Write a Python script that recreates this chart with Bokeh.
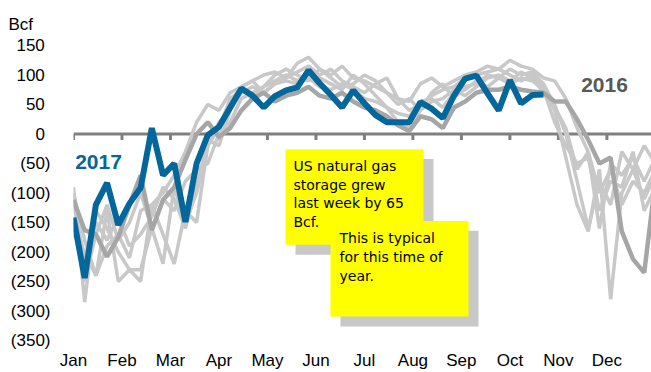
import numpy as np
from bokeh.plotting import figure
from bokeh.models import FixedTicker, Span, Label, BoxAnnotation
from bokeh.embed import file_html
from bokeh.resources import INLINE

# ---------------- data ----------------
months = ["Jan", "Feb", "Mar", "Apr", "May", "Jun",
          "Jul", "Aug", "Sep", "Oct", "Nov", "Dec"]
y_ticks = [150, 100, 50, 0, -50, -100, -150, -200, -250, -300, -350]

# weekly net storage change, Bcf (week index 0 = first week of January)
storage_2017 = [-142, -244, -120, -83, -154, -118, -91, 10, -70, -50, -149, -50,
                -2, 12, 45, 77, 65, 45, 64, 74, 79, 108, 86, 66, 45, 74, 52, 32,
                20, 20, 20, 54, 43, 27, 65, 94, 99, 69, 40, 91, 52, 66, 67]

storage_2016 = [-112, -163, -170, -208, -175, -120, -70, -163, -112, -90, -44, 0,
                20, -5, 10, 40, 60, 70, 55, 65, 70, 80, 65, 60, 70, 55, 45, 40,
                30, 15, 5, 30, 25, 10, 45, 55, 70, 75, 75, 80, 75, 72, 70, 55,
                55, 25, -10, -50, -40, -165, -212, -235, -80]

storage_2015 = [-100, -180, -240, -190, -170, -210, -130, -120, -100, -70, -30, 20,
                50, 40, 70, 80, 90, 100, 105, 95, 120, 130, 110, 100, 115, 95, 90, 80,
                70, 60, 55, 85, 95, 80, 90, 100, 105, 115, 110, 125, 115, 110, 95, 90,
                60, 10, -30, -160, -50, -70, -40, -80, -40]

storage_2014 = [-90, -285, -130, -160, -200, -230, -230, -160, -220, -90, -150, -100,
                -20, 10, 60, 75, 60, 80, 100, 110, 100, 90, 110, 95, 80, 85, 100, 90,
                70, 50, 60, 40, 70, 85, 60, 80, 85, 100, 95, 110, 100, 105, 85, 50,
                0, -80, -160, -80, -120, -30, -60, -20, -50]

storage_2013 = [-170, -200, -240, -130, -250, -230, -250, -120, -170, -220, -130, -150,
                -20, 20, 40, 80, 90, 70, 85, 95, 105, 115, 100, 110, 90, 80, 70, 85,
                95, 60, 40, 50, 65, 75, 80, 95, 100, 105, 110, 100, 90, 100, 80, 40,
                -40, -120, -165, -60, -280, -100, -60, -110, -70]

storage_2012 = [-140, -250, -170, -120, -180, -150, -100, -160, -110, -130, -80, -60,
                -50, 0, 20, 60, 70, 80, 90, 100, 90, 100, 95, 85, 75, 100, 85, 65,
                45, 35, 30, 55, 60, 45, 70, 75, 90, 80, 95, 85, 95, 90, 75, 20,
                -20, -50, -40, -130, -80, -90, -30, -130, -90]

storage_2011 = [-120, -210, -150, -180, -140, -190, -170, -140, -90, -110, -160, -90,
                -10, -20, 40, 70, 80, 70, 85, 90, 85, 95, 80, 75, 85, 75, 60, 55,
                45, 20, 10, 40, 55, 60, 75, 65, 80, 95, 100, 90, 105, 95, 70, 45,
                10, -60, -30, -100, -60, -120, -80, -100, -60]

WEEKS_PER_MONTH = 52 / 12


def month_x(series):
    return np.arange(len(series)) / WEEKS_PER_MONTH


def y_label(v):
    return "(%d)" % abs(v) if v < 0 else "%d\u2004" % v


# ---------------- styles ----------------
BLUE = "#04679C"
DARK_GREY = "#A6A6A6"
LIGHT_GREY = "#C8C8C8"
AXIS_GREY = "#808080"
FONT = "Liberation Sans"

FRAME_L, FRAME_R, FRAME_T, FRAME_B = 73, 651, 45, 341
W, H = 651, 372
X_END = 11.92

p = figure(width=W, height=H, output_backend="svg", toolbar_location=None,
           x_range=(0, X_END), y_range=(-350, 150),
           min_border_left=FRAME_L, min_border_right=W - FRAME_R,
           min_border_top=FRAME_T, min_border_bottom=H - FRAME_B)
p.outline_line_color = None
p.xgrid.visible = False
p.ygrid.visible = False
p.background_fill_color = "white"

# y axis
p.yaxis.ticker = FixedTicker(ticks=y_ticks)
p.yaxis.major_label_overrides = {v: y_label(v) for v in y_ticks}
p.yaxis.axis_line_color = None
p.yaxis.major_tick_line_color = None
p.yaxis.minor_tick_line_color = None
p.yaxis.major_label_standoff = 17
p.yaxis.major_label_text_font = FONT
p.yaxis.major_label_text_font_size = "17px"
p.yaxis.major_label_text_color = "black"

# x axis (month labels)
month_ticks = list(range(len(months)))
p.xaxis.ticker = FixedTicker(ticks=month_ticks)
p.xaxis.major_label_overrides = {i: m for i, m in enumerate(months)}
p.xaxis.axis_line_color = None
p.xaxis.major_tick_line_color = None
p.xaxis.minor_tick_line_color = None
p.xaxis.major_label_standoff = 4
p.xaxis.major_label_text_font = FONT
p.xaxis.major_label_text_font_size = "17px"
p.xaxis.major_label_text_color = "black"

# title "Bcf"
p.title.text = "Bcf"
p.title.align = "left"
p.title.offset = -FRAME_L + 8
p.title.standoff = 24
p.title.text_font = FONT
p.title.text_font_size = "17px"
p.title.text_font_style = "normal"
p.title.text_color = "black"

# zero line with month tick marks
p.add_layout(Span(location=0, dimension="width", line_color=AXIS_GREY,
                  line_width=3, level="underlay"))
p.segment(x0=month_ticks, y0=[0] * len(month_ticks), x1=month_ticks,
          y1=[-10] * len(month_ticks), line_color=AXIS_GREY, line_width=3)

# series
for s in [storage_2011, storage_2012, storage_2013, storage_2014, storage_2015]:
    p.line(month_x(s), s, line_color=LIGHT_GREY, line_width=3.5)
p.line(month_x(storage_2016), storage_2016, line_color=DARK_GREY, line_width=4.5)
p.line(month_x(storage_2017), storage_2017, line_color=BLUE, line_width=6)


# ---------------- annotations (pixel placement helpers) ----------------
def dx(px):
    return (px - FRAME_L) * X_END / (FRAME_R - FRAME_L)


def dy(py):
    return 150 - (py - FRAME_T) * 500 / (FRAME_B - FRAME_T)


p.add_layout(Label(x=dx(98), y=dy(162), text="2017", text_color=BLUE,
                   text_font=FONT, text_font_size="21px", text_font_style="bold",
                   text_align="center", text_baseline="middle"))
p.add_layout(Label(x=dx(604), y=dy(85), text="2016", text_color="#595959",
                   text_font=FONT, text_font_size="21px", text_font_style="bold",
                   text_align="center", text_baseline="middle"))


def callout(l, t, r, b, lines, text_x, first_y, step):
    p.add_layout(BoxAnnotation(left=dx(l + 10), right=dx(r + 10), top=dy(t + 10),
                               bottom=dy(b + 10), fill_color="#C8C8C8", fill_alpha=1,
                               line_color=None))
    p.add_layout(BoxAnnotation(left=dx(l), right=dx(r), top=dy(t), bottom=dy(b),
                               fill_color="#FFFF00", fill_alpha=1, line_color=None))
    for i, ln in enumerate(lines):
        p.add_layout(Label(x=dx(text_x), y=dy(first_y + i * step), text=ln,
                           text_font="DejaVu Sans", text_font_size="14px",
                           text_color="black", text_align="left",
                           text_baseline="middle"))


callout(285, 149, 423, 245,
        ["US natural gas", "storage grew", "last week by 65", "Bcf."], 293, 166, 18.7)
callout(330, 221, 468, 317,
        ["This is typical", "for this time of", "year."], 339, 238, 19)

open("out.html", "w").write(file_html(p, INLINE))
